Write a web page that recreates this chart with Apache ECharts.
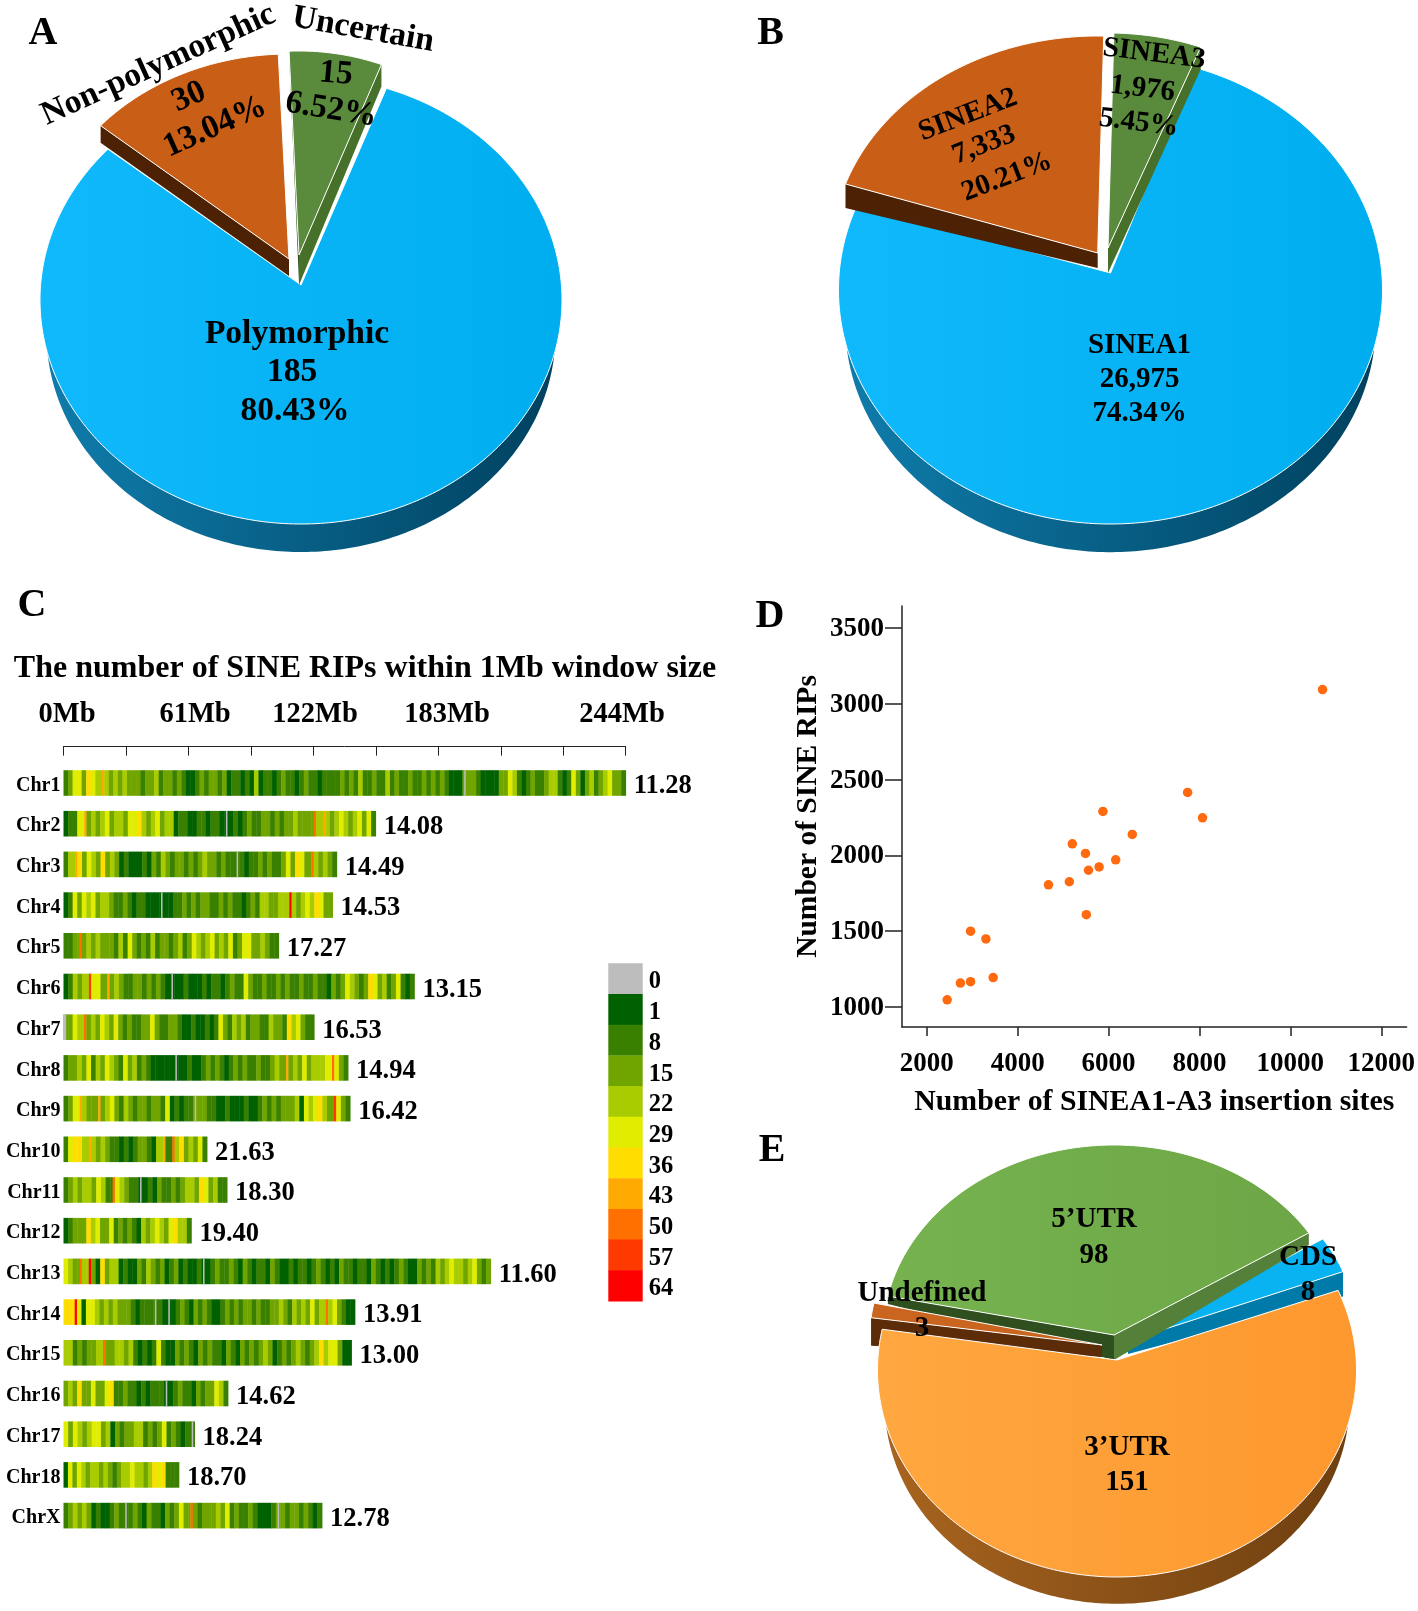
<!DOCTYPE html>
<html><head><meta charset="utf-8">
<style>html,body{margin:0;padding:0;background:#fff}#c{width:1418px;height:1611px}</style>
<script src="https://cdn.jsdelivr.net/npm/echarts@6/dist/echarts.min.js"></script>
</head><body><div id="c"></div>
<script>
// ---------- DATA ----------
const pieANames=['Polymorphic','Non-polymorphic','Uncertain'];
const pieAValues=[185,30,15];
const pieAPct=['80.43%','13.04%','6.52%'];
const pieBNames=['SINEA1','SINEA2','SINEA3'];
const pieBValues=[26975,7333,1976];
const pieBPct=['74.34%','20.21%','5.45%'];
const pieENames=['CDS','3’UTR','Undefined','5’UTR'];
const pieEValues=[8,151,3,98];

const chrNames=['Chr1','Chr2','Chr3','Chr4','Chr5','Chr6','Chr7','Chr8','Chr9','Chr10','Chr11','Chr12','Chr13','Chr14','Chr15','Chr16','Chr17','Chr18','ChrX'];
const chrLengths=[244,135.5,118.6,116.8,93.4,152.3,108.8,123.5,124.4,62.3,71,55.5,185.4,126.5,125,71.4,56.9,50.1,112.2];
const chrDensity=['11.28','14.08','14.49','14.53','17.27','13.15','16.53','14.94','16.42','21.63','18.30','19.40','11.60','13.91','13.00','14.62','18.24','18.70','12.78'];
const mbTicks=['0Mb','61Mb','122Mb','183Mb','244Mb'];
const scaleLabels=['0','1','8','15','22','29','36','43','50','57','64'];
const scaleColors=['#bdbdbd','#006100','#3a8000','#70a500','#a9cc00','#e0ed00','#ffdd00','#ffaa00','#ff7000','#ff3a00','#ff0000'];

// colour-class of each 2 Mb stretch, read from the strips (index into scaleLabels)
const chr1=[2,3,5,5,3,6,5,4,7,4,3,4,3,4,3,3,3,2,3,3,4,2,3,3,2,3,2,1,1,2,3,2,3,3,2,3,1,2,2,1,2,1,4,1,2,2,1,2,3,2,2,1,2,3,2,2,1,2,2,2,2,3,2,3,2,4,2,2,3,2,2,4,2,3,2,2,3,2,2,3,2,3,2,3,2,1,1,1,0,3,3,2,1,1,1,1,3,3,5,4,2,1,2,3,2,2,3,4,4,2,1,2,5,3,1,3,4,2,3,4,5,3,3,2];
const chr2=[1,2,2,5,7,3,4,3,4,5,3,4,4,3,5,5,6,4,3,4,5,3,4,4,1,2,2,1,1,2,2,1,2,2,1,0,1,2,1,2,3,2,2,3,3,2,3,2,3,3,4,3,3,3,8,4,7,4,3,4,5,4,3,4,5,3,5,2];
const chr3=[2,4,7,6,3,5,4,3,6,3,4,3,1,2,1,1,1,2,1,3,2,4,3,2,3,3,2,3,2,3,4,3,3,2,3,2,2,0,2,1,2,2,3,2,3,2,2,3,5,3,6,5,3,8,4,3,4,3,2];
const chr4=[1,2,5,3,5,4,5,3,4,4,3,2,2,3,2,1,2,2,1,1,1,0,1,1,2,2,3,2,3,2,3,3,2,2,3,2,3,2,2,1,2,3,2,4,4,3,3,4,4,10,4,3,4,5,4,6,5,3,3];
const chr5=[2,2,3,8,3,4,3,4,3,3,3,2,4,2,5,3,2,3,2,4,2,3,3,2,3,4,2,3,5,4,3,4,5,3,4,3,5,2,3,5,5,3,3,4,3,2,2];
const chr6=[1,2,4,3,4,9,5,5,3,7,3,4,3,2,2,3,3,2,3,2,3,2,1,0,1,1,2,1,1,1,2,1,2,2,1,2,3,2,2,5,3,2,2,3,2,2,3,2,3,2,2,3,2,2,3,2,2,1,3,2,3,5,4,3,2,3,6,5,3,4,2,3,5,2,1,2];
const chr7=[0,3,5,4,8,3,4,3,5,4,3,5,3,2,3,2,2,3,3,5,3,2,2,3,3,2,1,1,2,1,1,2,1,2,5,3,2,4,3,4,2,3,3,2,2,4,3,3,2,6,4,5,3,2,2];
const chr8=[2,3,3,4,3,5,2,4,3,5,4,3,2,5,3,4,2,3,2,1,1,1,1,1,0,1,1,2,1,1,2,3,2,3,2,1,2,3,2,3,2,2,3,2,2,3,4,3,7,3,4,3,5,3,4,4,4,5,8,5,3,2];
const chr9=[2,3,5,7,4,3,3,7,3,4,5,3,2,4,3,2,3,3,2,3,3,2,5,1,2,1,2,2,0,3,3,2,2,1,1,2,1,1,1,2,1,1,2,3,2,3,2,3,3,3,4,1,5,4,5,6,4,3,9,5,3,2];
const chr10=[2,5,6,6,4,7,4,3,4,3,2,2,1,2,1,2,3,3,2,1,4,7,2,8,4,6,3,4,3,5,2];
const chr11=[2,3,4,3,4,4,3,5,4,2,8,5,4,3,2,2,0,1,2,1,3,2,2,3,2,3,4,4,3,6,5,3,4,2,2];
const chr12=[1,2,3,3,3,6,4,5,3,3,5,2,3,2,3,2,1,4,3,4,5,4,3,5,6,4,4,2];
const chr13=[5,4,3,8,4,10,3,1,6,3,4,4,1,2,1,1,3,2,4,3,2,3,1,2,3,1,2,1,1,2,0,1,2,3,2,2,3,2,1,3,2,1,2,2,1,3,2,1,1,2,1,2,2,1,2,3,2,1,2,1,3,2,2,1,2,2,1,3,2,1,2,1,2,3,2,1,1,3,2,3,2,4,3,4,5,4,4,3,4,5,3,2,3];
const chr14=[6,6,10,5,1,5,5,4,3,4,3,4,3,3,3,2,1,2,2,2,0,2,1,0,1,2,3,2,1,3,2,3,2,1,1,2,3,2,3,2,3,3,2,3,2,2,3,3,4,3,2,4,3,4,3,5,3,4,8,4,5,3,2,1,1];
const chr15=[4,4,2,3,2,3,3,4,8,3,3,4,4,3,4,2,1,2,1,2,5,2,1,1,3,2,3,2,1,3,2,3,2,2,1,3,2,1,3,2,3,2,3,4,3,1,2,3,2,3,4,3,2,3,4,6,4,5,5,3,1,1];
const chr16=[3,4,3,6,3,3,5,3,3,5,6,2,2,3,2,2,1,2,1,2,2,2,0,1,2,3,2,2,1,3,2,3,3,5,4,2];
const chr17=[5,3,5,4,3,4,5,5,3,4,1,3,2,3,3,4,4,2,3,2,3,5,2,3,2,1,2,0];
const chr18=[1,5,3,5,4,3,4,4,3,4,3,2,3,4,4,5,4,4,3,4,6,5,6,2,2,2];
const chrX=[2,3,4,3,4,3,1,2,1,1,2,3,2,0,2,3,2,1,3,2,2,1,3,2,3,5,3,8,3,2,3,3,3,4,3,5,2,3,2,2,3,2,1,1,1,2,0,3,2,3,3,2,3,2,1,2];

const scatterX=[2449,2740,2964,3461,2964,3301,4678,5137,5511,5558,5792,5492,5202,5876,6157,6522,7739,8067,10708];
const scatterY=[1047,1158,1167,1194,1500,1449,1806,1826,1609,1902,1924,2013,2076,2290,1971,2138,2415,2248,3094];
const scatterXTicks=[2000,4000,6000,8000,10000,12000];
const scatterYTicks=[1000,1500,2000,2500,3000,3500];

// ---------- LAYOUT ----------
const SERIF='"Liberation Serif","Times New Roman",serif';
const chrBins=[chr1,chr2,chr3,chr4,chr5,chr6,chr7,chr8,chr9,chr10,chr11,chr12,chr13,chr14,chr15,chr16,chr17,chr18,chrX];
const grad=(a,b)=>new echarts.graphic.LinearGradient(0,0,1,0,[{offset:0,color:a},{offset:1,color:b}]);

const layoutA={start:-69,font:33.5,order:[0,1,2],slices:[
 {cx:301,cy:285,ey:300,rx:261,ry:224,skew:[-1.9,1.75],face:grad('#10b9fb','#00aeef'),base:{s:.975,dy:33.6,fill:grad('#0f7cab','#00415f')},
  text:[[297,334,0],[292,372,0],[295,411,0]]},
 {cx:289,cy:259,rx:248,ry:205,face:'#c95f16',wallS:[17,17,'#4d2204'],text:[[158.5,65,24.3],[189,97,24],[215,127,24]]},
 {cx:299,cy:255,rx:230,ry:204,face:'#5a8a3b',wallS:[28,3,'#2f4f1f'],wallE:[30,22,'#47702b'],text:[[363,30,-10],[336,74,-5],[331,110,-9]]}]};
const layoutB={start:-69.1,font:29,order:[0,1,2],slices:[
 {cx:1110.5,cy:273,ey:290,rx:272,ry:234,skew:[-2.7,2.8],face:grad('#10b9fb','#00aeef'),base:{s:.975,dy:34,fill:grad('#0f7cab','#00415f')},
  text:[[1139.5,346,0],[1139.5,380,0],[1139.5,414,0]]},
 {cx:1097.7,cy:253,rx:266,ry:217,face:'#c95f16',wallS:[15,24,'#4d2204'],text:[[968,115,21],[984,145,21],[1007,177,21]]},
 {cx:1108,cy:248,rx:260,ry:215,face:'#5a8a3b',wallE:[25,22,'#47702b'],text:[[1154,54,-7],[1142.5,89,-7],[1138.7,123,-7]]}]};
const layoutE={start:-32.5,font:29,order:[0,3,2,1],slices:[
 {cx:1128,cy:1341,rx:231,ry:190,face:'#09b2f0',wallE:[13,25,'#007aa8'],text:[[1308,1258,0],[1308,1293,0]]},
 {cx:1117,cy:1360,ey:1370,rx:239.5,ry:207,skew:[-1.2,3.7],face:grad('#ffa740','#fd982e'),base:{s:.97,dy:33,fill:grad('#a8641f','#6e3f10')},text:[[1127,1448,0],[1127,1483,0]]},
 {cx:1102,cy:1345,rx:233,ry:205,face:'#c9651e',wallS:[12,28,'#5c2c08'],text:[[922,1294,0],[922,1329,0]]},
 {cx:1114,cy:1335,rx:231,ry:190,face:grad('#76b34f','#6da646'),wallS:[25,8,'#2f4f1f'],wallE:[25,12,'#55803a'],text:[[1094,1220,0],[1094,1256,0]]}]};

function arc(c,r1,r2,dy,a0,a1){const pts=[];const n=Math.max(2,Math.ceil(Math.abs(a1-a0)));
  for(let i=0;i<=n;i++){const t=(a0+(a1-a0)*i/n)*Math.PI/180;pts.push([c[0]+r1*Math.cos(t),c[1]+dy+r2*Math.sin(t)]);}return pts;}

function pieSeries(layout,names,values,pcts){
  const total=values.reduce((a,b)=>a+b,0);
  const bounds=[];let acc=layout.start;
  values.forEach(v=>{const sweep=v/total*360;bounds.push([acc,acc+sweep]);acc+=sweep;});
  return {type:'custom',coordinateSystem:'none',silent:true,
    data:layout.order.map(i=>[values[i],i]),
    renderItem(params,api){
      const i=api.value(1),L=layout.slices[i],sk=L.skew||[0,0],a0=bounds[i][0]+sk[0],a1=bounds[i][1]+sk[1];
      const c=[L.cx,L.cy],e=[L.cx,L.ey===undefined?L.cy:L.ey],kids=[];
      if(L.base){const b=L.base;
        kids.push({type:'polygon',shape:{points:[[e[0],e[1]+b.dy],...arc(e,L.rx*b.s,L.ry*b.s,b.dy,a0,a1)]},style:{fill:b.fill}});}
      const wall=(w,ang)=>{const t=ang*Math.PI/180,p=[e[0]+L.rx*Math.cos(t),e[1]+L.ry*Math.sin(t)];
        kids.push({type:'polygon',shape:{points:[c,p,[p[0],p[1]+w[1]],[c[0],c[1]+w[0]]]},style:{fill:w[2]}});};
      if(L.wallS)wall(L.wallS,a0);
      if(L.wallE)wall(L.wallE,a1);
      kids.push({type:'polygon',shape:{points:[c,...arc(e,L.rx,L.ry,0,a0,a1)]},style:{fill:L.face,stroke:'#fff',lineWidth:1}});
      const lines=[names[i],values[i].toLocaleString('en-US')];if(pcts)lines.push(pcts[i]);
      lines.forEach((s,k)=>{const p=L.text[k];
        kids.push({type:'text',x:p[0],y:p[1],rotation:p[2]*Math.PI/180,z2:100,
          style:{text:s,font:'bold '+layout.font+'px '+SERIF,fill:'#000',align:'center',verticalAlign:'middle',textAlign:'center',textVerticalAlign:'middle'}});});
      return {type:'group',children:kids};
    }};
}

// strip cells: hot windows and empty windows are narrower than a 2 Mb stretch
const cellData=[];
chrBins.forEach((bins,row)=>{const w=chrLengths[row]/bins.length;
  bins.forEach((lv,k)=>{const s=k*w,m=s+w/2,e=s+w;
    const prev=k>0?bins[k-1]:(bins[k+1]||1);
    if(lv===0){cellData.push([s,row,bins[k+1]||prev,e]);
      if(k===0)cellData.push([s,row,0,m]);else cellData.push([m-.25,row,0,m+.25]);}
    else if(lv>=7){cellData.push([s,row,prev>=7?4:prev,m]);cellData.push([m,row,lv,e]);}
    else cellData.push([s,row,lv,e]);});});

const txt=(s,x,y,size,align)=>({type:'text',x,y,z:50,style:{text:s,font:'bold '+size+'px '+SERIF,fill:'#000',textAlign:align||'center',textVerticalAlign:'middle',align:align||'center',verticalAlign:'middle'}});
const panelLetters=[['A',43,34],['B',770.6,34],['C',32,606],['D',770,617],['E',772,1151]];
const mbX=[67,195,315,447,622];

const axisFont={fontFamily:SERIF,fontWeight:'bold',color:'#000'};
const option={
  animation:false,backgroundColor:'#fff',
  grid:[
    {left:63.5,top:762.65,width:562.2,height:773.3},
    {left:608.3,top:963.3,width:34.4,height:337.7},
    {left:902,top:606,width:505.4,height:421}
  ],
  xAxis:[
    {gridIndex:0,type:'value',min:0,max:244,interval:244/9,position:'top',offset:16,
      axisLine:{show:true,lineStyle:{color:'#222',width:1}},axisTick:{show:true,inside:true,length:9,lineStyle:{color:'#222',width:1}},axisLabel:{show:false},splitLine:{show:false}},
    {gridIndex:1,type:'value',min:0,max:1,show:false},
    {gridIndex:2,type:'value',min:1455,max:12558,
      name:'Number of SINEA1-A3 insertion sites',nameLocation:'middle',nameGap:60.5,nameTextStyle:{...axisFont,fontSize:29.8},
      axisLine:{show:true,lineStyle:{color:'#222',width:1.5}},
      axisTick:{show:true,length:9,customValues:scatterXTicks,lineStyle:{color:'#222',width:1.5}},
      axisLabel:{...axisFont,fontSize:27,margin:24,customValues:scatterXTicks,formatter:v=>String(v)},splitLine:{show:false}}
  ],
  yAxis:[
    {gridIndex:0,type:'category',inverse:true,data:chrNames,
      axisLine:{show:false},axisTick:{show:false},axisLabel:{...axisFont,fontSize:20,margin:3,interval:0,verticalAlign:'top',lineHeight:5},splitLine:{show:false}},
    {gridIndex:1,type:'category',inverse:true,position:'right',data:scaleLabels,
      axisLine:{show:false},axisTick:{show:false},axisLabel:{...axisFont,fontSize:24.5,margin:6,interval:0,align:'left',verticalAlign:'top',lineHeight:7},splitLine:{show:false}},
    {gridIndex:2,type:'value',min:868,max:3645,
      name:'Number of SINE RIPs',nameLocation:'middle',nameGap:78.5,nameRotate:90,nameTextStyle:{...axisFont,fontSize:29.5},
      axisLine:{show:true,lineStyle:{color:'#222',width:1.5}},
      axisTick:{show:true,length:17,customValues:scatterYTicks,lineStyle:{color:'#222',width:1.5}},
      axisLabel:{...axisFont,fontSize:27,margin:18,customValues:scatterYTicks,formatter:v=>String(v),verticalAlign:'top',lineHeight:2},splitLine:{show:false}}
  ],
  series:[
    pieSeries(layoutA,pieANames,pieAValues,pieAPct),
    pieSeries(layoutB,pieBNames,pieBValues,pieBPct),
    pieSeries(layoutE,pieENames,pieEValues,null),
    {type:'custom',xAxisIndex:0,yAxisIndex:0,silent:true,clip:false,data:cellData,encode:{x:[0,3],y:1},
      renderItem(p,api){const a=api.coord([api.value(0),api.value(1)]),b=api.coord([api.value(3),api.value(1)]),h=25.6;
        return {type:'rect',shape:{x:a[0],y:a[1]-h/2,width:b[0]-a[0]+.4,height:h},style:{fill:scaleColors[api.value(2)]}};}},
    {type:'scatter',xAxisIndex:0,yAxisIndex:0,silent:true,symbolSize:0,itemStyle:{opacity:1},
      data:chrLengths.map((l,i)=>[l,i,chrDensity[i]]),
      label:{show:true,position:'right',distance:8,offset:[0,3.5],formatter:q=>q.value[2],...axisFont,fontSize:26.5}},
    {type:'custom',xAxisIndex:1,yAxisIndex:1,silent:true,data:scaleLabels.map((s,i)=>[0,i,1]),encode:{x:[0,2],y:1},
      renderItem(p,api){const a=api.coord([0,api.value(1)]),b=api.coord([1,api.value(1)]),h=api.size([0,1])[1];
        return {type:'rect',shape:{x:a[0],y:a[1]-h/2,width:b[0]-a[0],height:h+.4},style:{fill:scaleColors[api.value(1)]}};}},
    {type:'scatter',xAxisIndex:2,yAxisIndex:2,silent:true,symbolSize:9.5,itemStyle:{color:'#ff6a10',opacity:1},
      data:scatterX.map((x,i)=>[x,scatterY[i]])}
  ],
  graphic:{elements:[
    ...panelLetters.map(l=>txt(l[0],l[1],l[2],40)),
    txt('The number of SINE RIPs within 1Mb window size',365,669,32),
    ...mbTicks.map((s,i)=>txt(s,mbX[i],715,28.5))
  ]}
};
echarts.init(document.getElementById('c'),null,{renderer:'canvas'}).setOption(option);
</script></body></html>
